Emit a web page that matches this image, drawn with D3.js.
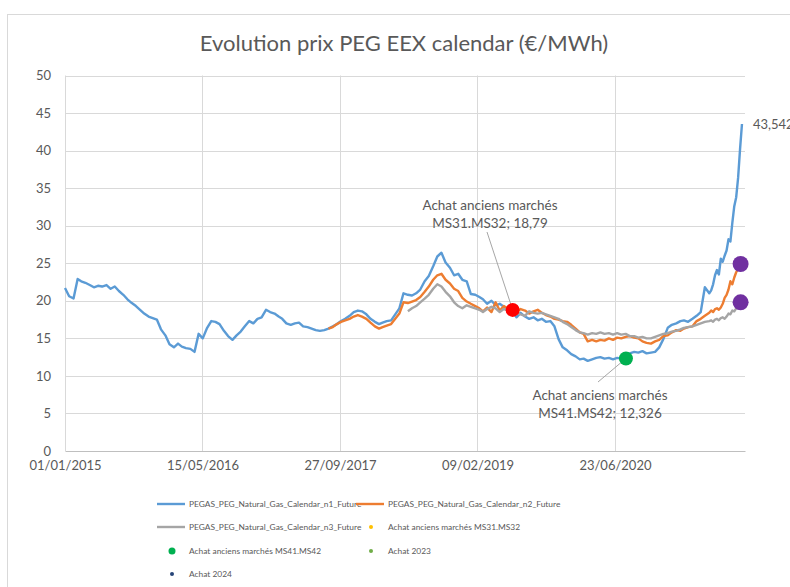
<!DOCTYPE html>
<html>
<head>
<meta charset="utf-8">
<script src="https://cdn.jsdelivr.net/npm/d3@7"></script>
<style>
  body { margin: 0; background: #fff; }
  svg { display: block; }
  text { font-family: Lato, "Open Sans", sans-serif; fill: #595959; }
</style>
</head>
<body>
<svg id="chart" width="790" height="587"></svg>
<script>
// sampling grid: 1st and 16th of each month, then weekly for the final run-up
var gridStart = '2015-01-01', gridSemiEnd = '2021-06-01', weeklyStart = '2021-06-01', weeklyCount = 18;

// PEGAS PEG calendar n1
var n1 = [
  21.7, 20.6, 20.3, 22.9, 22.6, 22.4, 22.1, 21.8, 22.0, 21.9, 22.1, 21.6, 21.9, 21.3, 20.8, 20.2, 19.7, 19.3, 18.8, 18.3, 17.9, 17.7, 17.5, 16.2,
  15.4, 14.2, 13.8, 14.3, 13.9, 13.7, 13.6, 13.2, 15.6, 15.0, 16.4, 17.3, 17.2, 16.9, 16.0, 15.3, 14.8, 15.4, 15.9, 16.6, 17.3, 17.0, 17.6, 17.8,
  18.8, 18.5, 18.3, 17.9, 17.6, 17.0, 16.8, 17.0, 17.1, 16.6, 16.5, 16.3, 16.1, 16.0, 16.1, 16.3, 16.6, 16.9, 17.3, 17.6, 18.0, 18.5, 18.7, 18.6,
  18.2, 17.6, 17.2, 16.9, 17.1, 17.3, 17.4, 18.2, 19.0, 21.0, 20.8, 20.7, 21.0, 21.5, 22.6, 23.3, 24.6, 25.9, 26.4, 25.1, 24.4, 23.4, 23.6, 22.8,
  22.6, 20.9, 20.8, 20.5, 20.2, 19.6, 20.0, 19.4, 19.6, 19.2, 18.9, 18.6, 17.8, 18.4, 17.9, 17.6, 17.8, 17.4, 17.6, 17.2, 17.3, 16.6, 14.9, 13.8,
  13.4, 12.9, 12.6, 12.2, 12.3, 12.0, 12.2, 12.4, 12.5, 12.3, 12.4, 12.2, 12.4, 12.3, 12.4, 13.0, 13.2, 13.1, 13.3, 13.0, 13.1, 13.2, 13.8, 14.9,
  16.4, 16.8, 17.0, 17.3, 17.4, 17.2, 17.6, 18.0, 18.5, 21.8,
  21.0, 21.4, 22.2, 23.4, 24.1, 23.5, 25.6, 25.2, 26.0, 26.7, 28.2, 27.9, 30.4, 32.6, 33.8, 36.4, 40.2, 43.542
];

// n2 starts 2017-08-16
var n2Start = '2017-08-16';
var n2 = [
  16.3, 16.5, 16.9, 17.2, 17.4, 17.6, 17.9, 18.1, 17.9,
  17.6, 17.1, 16.6, 16.3, 16.5, 16.7, 16.9, 17.6, 18.3, 19.8, 19.7, 19.9, 20.1, 20.5, 21.2, 21.9, 22.8, 23.4, 23.6, 22.8, 22.3, 21.6, 21.3, 20.4,
  19.9, 19.6, 19.3, 19.0, 18.6, 19.1, 18.5, 19.8, 18.7, 19.3, 18.9, 18.7, 18.5, 18.9, 18.7, 18.3, 18.6, 18.8, 18.4, 18.1, 17.9, 17.6, 17.5, 17.3,
  17.2, 16.8, 16.3, 15.8, 15.6, 14.6, 14.8, 14.6, 14.8, 14.7, 15.0, 14.8, 15.1, 15.0, 15.2, 15.3, 15.1, 15.0, 14.6, 14.4, 14.3, 14.6, 14.8, 15.3,
  15.4, 15.8, 16.1, 16.0, 16.3, 16.5, 16.6, 17.3, 17.6, 18.0,
  18.4, 18.7, 18.5, 18.9, 19.0, 18.8, 19.1, 19.6, 20.4, 20.8, 21.5, 22.6, 22.2, 23.1, 23.8, 24.3, 24.9
];

// n3 starts 2018-06-01
var n3Start = '2018-06-01';
var n3 = [
  18.6, 19.0, 19.3, 19.8, 20.3, 20.8, 21.6, 22.2, 21.9, 21.2, 20.6, 19.8, 19.3, 19.0,
  19.4, 19.2, 19.0, 18.8, 18.5, 18.9, 19.2, 19.0, 18.5, 18.9, 18.7, 18.5, 18.4, 18.2, 18.0, 18.6, 18.4, 18.3, 18.4, 18.2, 18.0, 17.8, 17.6, 17.2,
  16.9, 16.5, 16.1, 15.8, 15.7, 15.5, 15.7, 15.6, 15.8, 15.6, 15.7, 15.5, 15.7, 15.5, 15.6, 15.3, 15.3, 15.1, 15.2, 15.0, 15.0, 15.2, 15.4, 15.6,
  15.7, 15.9, 16.0, 16.2, 16.4, 16.5, 16.6, 16.8, 17.0, 17.2,
  17.3, 17.4, 17.2, 17.5, 17.6, 17.4, 17.7, 17.8, 17.6, 17.9, 18.3, 18.2, 18.7, 18.6, 19.0, 19.4, 19.8
];

var seriesNames = ['PEGAS_PEG_Natural_Gas_Calendar_n1_Future', 'PEGAS_PEG_Natural_Gas_Calendar_n2_Future', 'PEGAS_PEG_Natural_Gas_Calendar_n3_Future'];
var seriesColors = ['#5b9bd5', '#ed7d31', '#a5a5a5'];

// purchase points
var achatNames = ['Achat anciens marchés MS31.MS32', 'Achat anciens marchés MS41.MS42', 'Achat 2023', 'Achat 2024'];
var achatDates = ['2019-06-17', '2020-08-02', '2021-09-23', '2021-09-23'];
var achatValues = [18.79, 12.326, 24.9, 19.8];
var achatColors = ['#ff0000', '#00b050', '#7030a0', '#7030a0'];
var achatLegendColors = ['#ffc000', '#00b050', '#70ad47', '#264478'];

var xTicks = ['2015-01-01', '2016-05-15', '2017-09-27', '2019-02-09', '2020-06-23'];
var yTicks = [0, 5, 10, 15, 20, 25, 30, 35, 40, 45, 50];

(function() {
    var parse = d3.utcParse('%Y-%m-%d');
    var fmt = d3.utcFormat('%d/%m/%Y');

    var semi = d3.utcMonths(parse(gridStart), parse(gridSemiEnd)).flatMap(function(m) {
        return [m, d3.utcDay.offset(m, 15)];
    });
    var weekly = d3.range(weeklyCount).map(function(i) { return d3.utcDay.offset(parse(weeklyStart), 7 * i); });
    var grid = semi.concat(weekly);

    function toPoints(values, start) {
        var i0 = start ? grid.findIndex(function(d) { return +d === +parse(start); }) : 0;
        return values.map(function(v, i) { return { date: grid[i0 + i], value: v }; });
    }
    var series = [toPoints(n1), toPoints(n2, n2Start), toPoints(n3, n3Start)];

    var svg = d3.select('#chart');
    var pL = 65, pR = 745, pT = 75.5, pB = 451;

    var x = d3.scaleUtc().domain([parse('2015-01-01'), parse('2021-10-09')]).range([pL, pR]);
    var y = d3.scaleLinear().domain([0, 50]).range([pB, pT]);

    // chart frame
    svg.append('rect')
        .attr('x', 7.5).attr('y', 14.5).attr('width', 800).attr('height', 600)
        .attr('fill', 'none').attr('stroke', '#d9d9d9');

    svg.append('text')
        .attr('x', 404).attr('y', 51)
        .attr('text-anchor', 'middle')
        .style('font-size', '22px')
        .text('Evolution prix PEG EEX calendar (€/MWh)');

    // grid
    svg.append('g').selectAll('line').data(yTicks.filter(function(d) { return d > 0; })).enter().append('line')
        .attr('x1', pL).attr('x2', pR)
        .attr('y1', function(d) { return Math.round(y(d)) + 0.5; })
        .attr('y2', function(d) { return Math.round(y(d)) + 0.5; })
        .attr('stroke', '#d9d9d9');
    svg.append('g').selectAll('line').data(xTicks).enter().append('line')
        .attr('x1', function(d) { return Math.round(x(parse(d))) + 0.5; })
        .attr('x2', function(d) { return Math.round(x(parse(d))) + 0.5; })
        .attr('y1', pT).attr('y2', pB)
        .attr('stroke', '#d9d9d9');

    // axes
    var yAxis = svg.append('g')
        .attr('transform', 'translate(' + (pL - 14) + ',0)')
        .call(d3.axisLeft(y).tickValues(yTicks).tickSize(0).tickPadding(0));
    yAxis.select('.domain').remove();
    yAxis.selectAll('text').style('font-size', '13px');

    var xAxis = svg.append('g')
        .attr('transform', 'translate(0,' + pB + ')')
        .call(d3.axisBottom(x).tickValues(xTicks.map(parse)).tickFormat(fmt).tickSize(0).tickPadding(10));
    xAxis.select('.domain').attr('stroke', '#bfbfbf');
    xAxis.selectAll('text').style('font-size', '13px');

    // lines
    var line = d3.line()
        .x(function(d) { return x(d.date); })
        .y(function(d) { return y(d.value); });

    svg.append('g').selectAll('path').data(series).enter().append('path')
        .attr('d', line)
        .attr('fill', 'none')
        .attr('stroke', function(d, i) { return seriesColors[i]; })
        .attr('stroke-width', 2.4)
        .attr('stroke-linejoin', 'round');

    // last value label
    var last = series[0][series[0].length - 1];
    svg.append('text')
        .attr('x', x(last.date) + 11).attr('y', y(last.value) + 5)
        .style('font-size', '13px')
        .text(d3.format('.3f')(last.value).replace('.', ','));

    // annotation leaders
    var ann = [
        { i: 0, lines: ['Achat anciens marchés', 'MS31.MS32; 18,79'], tx: 490, ty: 210, lx: 487, ly: 232 },
        { i: 1, lines: ['Achat anciens marchés', 'MS41.MS42; 12,326'], tx: 600, ty: 400, lx: 598, ly: 382 }
    ];
    ann.forEach(function(a) {
        svg.append('line')
            .attr('x1', a.lx).attr('y1', a.ly)
            .attr('x2', x(parse(achatDates[a.i]))).attr('y2', y(achatValues[a.i]))
            .attr('stroke', '#a6a6a6').attr('stroke-width', 1);
    });

    // purchase dots
    svg.append('g').selectAll('circle').data(achatValues).enter().append('circle')
        .attr('cx', function(d, i) { return x(parse(achatDates[i])); })
        .attr('cy', function(d) { return y(d); })
        .attr('r', function(d, i) { return i < 2 ? 7 : 8; })
        .attr('fill', function(d, i) { return achatColors[i]; });

    ann.forEach(function(a) {
        var t = svg.append('text').attr('text-anchor', 'middle').style('font-size', '13.5px');
        a.lines.forEach(function(s, k) {
            t.append('tspan').attr('x', a.tx).attr('y', a.ty + k * 17.5).text(s);
        });
    });

    // legend
    var legendItems = [
        { type: 'line', name: seriesNames[0], color: seriesColors[0], x: 157, y: 504 },
        { type: 'line', name: seriesNames[1], color: seriesColors[1], x: 356, y: 504 },
        { type: 'line', name: seriesNames[2], color: seriesColors[2], x: 157, y: 527 },
        { type: 'dot', name: achatNames[0], color: achatLegendColors[0], r: 2, x: 356, y: 527 },
        { type: 'dot', name: achatNames[1], color: achatLegendColors[1], r: 3.5, x: 157, y: 551 },
        { type: 'dot', name: achatNames[2], color: achatLegendColors[2], r: 2, x: 356, y: 551 },
        { type: 'dot', name: achatNames[3], color: achatLegendColors[3], r: 2, x: 157, y: 574 }
    ];
    var lg = svg.append('g').selectAll('g').data(legendItems).enter().append('g')
        .attr('transform', function(d) { return 'translate(' + d.x + ',' + d.y + ')'; });
    lg.filter(function(d) { return d.type === 'line'; }).append('line')
        .attr('x1', 0).attr('x2', 28).attr('stroke', function(d) { return d.color; }).attr('stroke-width', 2.4);
    lg.filter(function(d) { return d.type === 'dot'; }).append('circle')
        .attr('cx', 15).attr('r', function(d) { return d.r; }).attr('fill', function(d) { return d.color; });
    lg.append('text')
        .attr('x', 32).attr('dy', '0.35em')
        .style('font-size', '8.4px')
        .text(function(d) { return d.name; });
})();
</script>
</body>
</html>
